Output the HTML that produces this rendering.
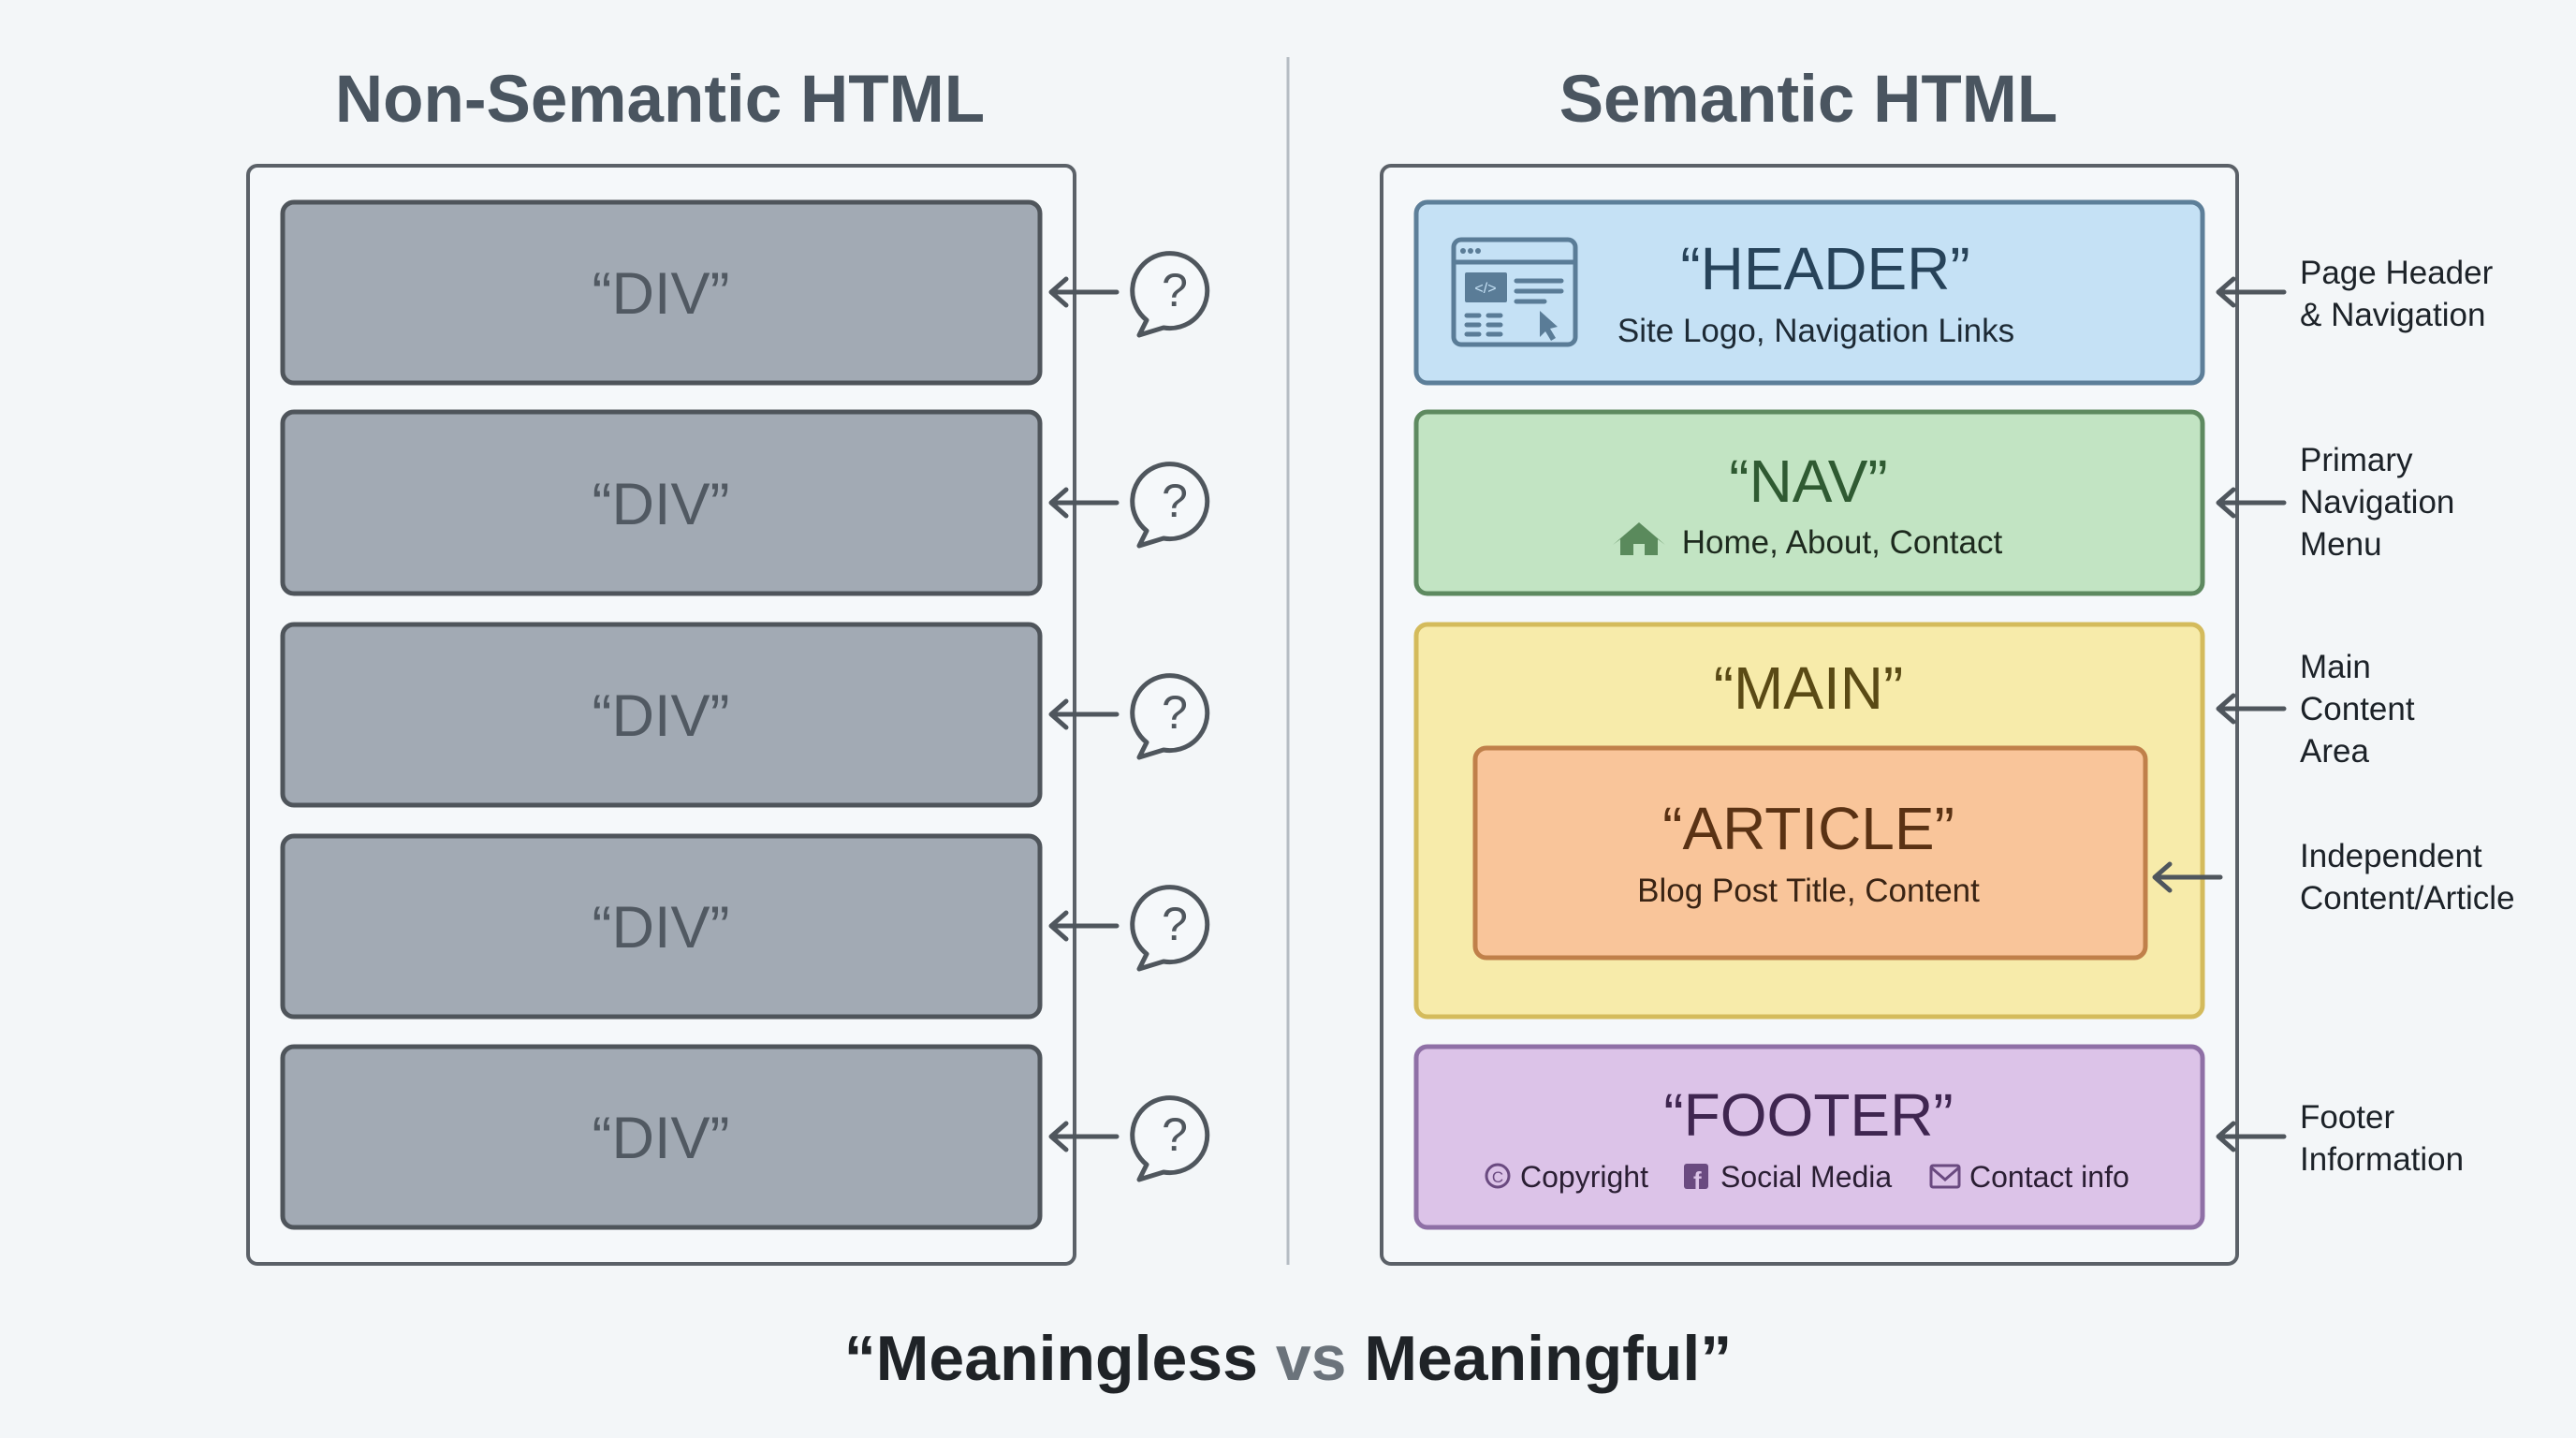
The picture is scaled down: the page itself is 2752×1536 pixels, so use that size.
<!DOCTYPE html>
<html><head><meta charset="utf-8"><style>
html,body{margin:0;padding:0;background:#f3f6f8;}
svg{display:block;}
text{font-family:"Liberation Sans",sans-serif;}
</style></head><body>
<svg width="2752" height="1536" viewBox="0 0 2752 1536" xmlns="http://www.w3.org/2000/svg">
<defs>
<g id="arrowL"><path d="M0 0 L-70 0 M-70 0 l16 -14 M-70 0 l16 14" stroke="#4f565d" stroke-width="5" fill="none" stroke-linecap="round" stroke-linejoin="round"/></g>
<g id="bubble">
<path d="M-28 32 A40 40 0 1 1 -10 40 L-36 48 Z" fill="#f5f8fa" stroke="#4f565d" stroke-width="5" stroke-linejoin="round"/>
<text x="2" y="17" font-size="50" text-anchor="middle" fill="#4f565d">?</text>
</g>
</defs>
<rect width="2752" height="1536" fill="#f3f6f8"/>

<text x="705" y="130" font-size="71" font-weight="bold" fill="#4a5560" text-anchor="middle">Non-Semantic HTML</text>
<text x="1932" y="130" font-size="71" font-weight="bold" fill="#4a5560" text-anchor="middle">Semantic HTML</text>
<line x1="1376" y1="61" x2="1376" y2="1351" stroke="#b5bcc3" stroke-width="3"/>

<rect x="265" y="177" width="883" height="1173" rx="10" fill="#f5f8fa" stroke="#5b6168" stroke-width="4"/>
<g fill="#a2aab4" stroke="#4f555b" stroke-width="5">
<rect x="302" y="216" width="809" height="193" rx="12"/>
<rect x="302" y="440" width="809" height="194" rx="12"/>
<rect x="302" y="667" width="809" height="193" rx="12"/>
<rect x="302" y="893" width="809" height="193" rx="12"/>
<rect x="302" y="1118" width="809" height="193" rx="12"/>
</g>
<g font-size="63" fill="#515962" text-anchor="middle">
<text x="706" y="335">“DIV”</text>
<text x="706" y="560">“DIV”</text>
<text x="706" y="786">“DIV”</text>
<text x="706" y="1012">“DIV”</text>
<text x="706" y="1237">“DIV”</text>
</g>
<use href="#arrowL" x="1193" y="312"/>
<use href="#arrowL" x="1193" y="537"/>
<use href="#arrowL" x="1193" y="763"/>
<use href="#arrowL" x="1193" y="989"/>
<use href="#arrowL" x="1193" y="1214"/>
<use href="#bubble" x="1253" y="310"/>
<use href="#bubble" x="1253" y="535"/>
<use href="#bubble" x="1253" y="761"/>
<use href="#bubble" x="1253" y="987"/>
<use href="#bubble" x="1253" y="1212"/>

<rect x="1476" y="177" width="914" height="1173" rx="10" fill="#f5f8fa" stroke="#5b6168" stroke-width="4"/>
<rect x="1513" y="216" width="840" height="193" rx="12" fill="#c5e1f5" stroke="#5d7f99" stroke-width="5"/>
<rect x="1513" y="440" width="840" height="194" rx="12" fill="#c2e4c3" stroke="#5e8a60" stroke-width="5"/>
<rect x="1513" y="667" width="840" height="419" rx="12" fill="#f7ebaa" stroke="#d4bb5c" stroke-width="5"/>
<rect x="1576" y="799" width="716" height="224" rx="12" fill="#f9c59a" stroke="#c0804a" stroke-width="5"/>
<rect x="1513" y="1118" width="840" height="193" rx="12" fill="#dcc3e8" stroke="#8f70a6" stroke-width="5"/>

<g stroke="#5a7c97" stroke-width="5" fill="none" stroke-linecap="round">
<rect x="1553" y="256" width="130" height="112" rx="8"/>
<line x1="1553" y1="280" x2="1683" y2="280"/>
<line x1="1620" y1="300" x2="1668" y2="300"/><line x1="1620" y1="311" x2="1668" y2="311"/><line x1="1620" y1="322" x2="1650" y2="322"/>
<line x1="1567" y1="337" x2="1580" y2="337"/><line x1="1590" y1="337" x2="1603" y2="337"/>
<line x1="1567" y1="347" x2="1580" y2="347"/><line x1="1590" y1="347" x2="1603" y2="347"/>
<line x1="1567" y1="357" x2="1580" y2="357"/><line x1="1590" y1="357" x2="1603" y2="357"/>
</g>
<g fill="#5a7c97"><circle cx="1563" cy="268" r="3"/><circle cx="1571" cy="268" r="3"/><circle cx="1579" cy="268" r="3"/>
<rect x="1565" y="291" width="45" height="32" rx="2"/>
<path d="M1645 332 L1645 360 L1651 354 L1657 364 L1662 361 L1656 351 L1664 349 Z"/></g>
<text x="1587" y="313" font-size="16" fill="#c5e1f5" text-anchor="middle">&lt;/&gt;</text>

<text x="1950" y="309" font-size="64" fill="#27435a" text-anchor="middle">“HEADER”</text>
<text x="1940" y="365" font-size="35" fill="#1d2a35" text-anchor="middle">Site Logo, Navigation Links</text>

<text x="1932" y="536" font-size="64" fill="#2f5a32" text-anchor="middle">“NAV”</text>
<path d="M1731 593 L1731 576 L1723 582 L1751 558 L1779 582 L1771 576 L1771 593 L1757 593 L1757 581 L1745 581 L1745 593 Z" fill="#5a8a5c"/>
<text x="1968" y="591" font-size="35" fill="#1d2a1e" text-anchor="middle">Home, About, Contact</text>

<text x="1932" y="757" font-size="64" fill="#5a4a15" text-anchor="middle">“MAIN”</text>
<text x="1932" y="907" font-size="64" fill="#5a3214" text-anchor="middle">“ARTICLE”</text>
<text x="1932" y="963" font-size="35" fill="#3a2414" text-anchor="middle">Blog Post Title, Content</text>

<text x="1932" y="1213" font-size="64" fill="#3f2650" text-anchor="middle">“FOOTER”</text>
<g font-size="32" fill="#2a1e33">
<circle cx="1600" cy="1256" r="12" fill="none" stroke="#6a4a80" stroke-width="3"/>
<text x="1600" y="1263" font-size="17" fill="#6a4a80" text-anchor="middle">C</text>
<text x="1624" y="1268">Copyright</text>
<rect x="1799" y="1243" width="26" height="27" rx="3" fill="#6a4a80"/>
<text x="1809" y="1270" font-size="26" font-weight="bold" fill="#dcc3e8">f</text>
<text x="1838" y="1268">Social Media</text>
<rect x="2063" y="1245" width="30" height="23" rx="2" fill="none" stroke="#6a4a80" stroke-width="3"/>
<path d="M2063 1247 L2078 1260 L2093 1247" fill="none" stroke="#6a4a80" stroke-width="3"/>
<text x="2104" y="1268">Contact info</text>
</g>

<use href="#arrowL" x="2440" y="312"/>
<use href="#arrowL" x="2440" y="537"/>
<use href="#arrowL" x="2440" y="757"/>
<use href="#arrowL" x="2372" y="937"/>
<use href="#arrowL" x="2440" y="1214"/>
<g font-size="35" fill="#1c2228">
<text x="2457" y="303">Page Header</text><text x="2457" y="348">&amp; Navigation</text>
<text x="2457" y="503">Primary</text><text x="2457" y="548">Navigation</text><text x="2457" y="593">Menu</text>
<text x="2457" y="724">Main</text><text x="2457" y="769">Content</text><text x="2457" y="814">Area</text>
<text x="2457" y="926">Independent</text><text x="2457" y="971">Content/Article</text>
<text x="2457" y="1205">Footer</text><text x="2457" y="1250">Information</text>
</g>

<text x="1376" y="1474" font-size="68" font-weight="bold" text-anchor="middle" fill="#1f2327">“Meaningless <tspan fill="#6b737b">vs</tspan> Meaningful”</text>
</svg>
</body></html>
